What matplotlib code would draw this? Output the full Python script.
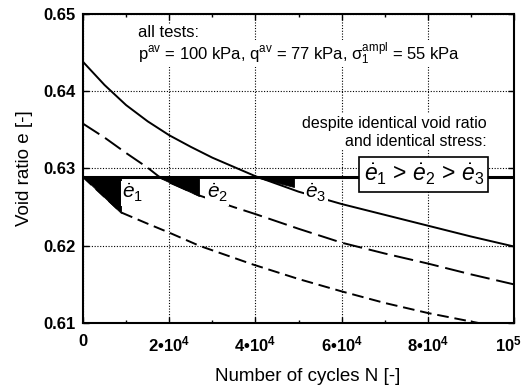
import matplotlib
matplotlib.use('Agg')
import matplotlib.pyplot as plt
import matplotlib.transforms as mtransforms
from matplotlib.ticker import MultipleLocator

plt.rcParams['font.family'] = ['Liberation Sans', 'DejaVu Sans']
plt.rcParams['mathtext.fontset'] = 'custom'
plt.rcParams['mathtext.rm'] = 'Liberation Sans'
plt.rcParams['mathtext.it'] = 'Liberation Sans:italic'
plt.rcParams['mathtext.bf'] = 'Liberation Sans:bold'

# curves
n1 = [0, 5000, 10000, 15000, 20000, 25000, 30000, 35000, 40000, 45000, 50000,
      55000, 60000, 70000, 80000, 90000, 100000]
e1 = [0.6438, 0.6408, 0.6382, 0.6361, 0.6343, 0.6328, 0.6314, 0.6302, 0.6290,
      0.6280, 0.6270, 0.6262, 0.6254, 0.6240, 0.6226, 0.6212, 0.6199]
n2 = [0, 5000, 10000, 15000, 17500, 20000, 27000, 35000, 40000, 50000, 60000,
      70000, 80000, 90000, 100000]
e2 = [0.6358, 0.6340, 0.6320, 0.6301, 0.6290, 0.6282, 0.6265, 0.6250, 0.6241,
      0.6222, 0.6204, 0.6190, 0.6177, 0.6163, 0.6150]
n3 = [0, 8900, 14800, 20000, 27000, 39300, 50000, 60000, 70000, 80000, 90000, 100000]
e3 = [0.6289, 0.6243, 0.6229, 0.6217, 0.6200, 0.6176, 0.6157, 0.6141, 0.6126,
      0.6113, 0.6102, 0.6091]

e_ref = 0.6289  # identical void ratio
# tangent triangles (start N, end N, e at end)
tri_n0 = [0, 17500, 40000]
tri_n1 = [8900, 27000, 49000]
tri_e1 = [0.6243, 0.6265, 0.6276]
lab_n = [9100, 28700, 51600]
lab_e = [0.6268, 0.6268, 0.6268]
lab_txt = [r'$\dot{e}_1$', r'$\dot{e}_2$', r'$\dot{e}_3$']

xticks = [0, 20000, 40000, 60000, 80000, 100000]
xticklabels = ['0', '2•10$^{\\mathbf{4}}$', '4•10$^{\\mathbf{4}}$',
               '6•10$^{\\mathbf{4}}$', '8•10$^{\\mathbf{4}}$', '10$^{\\mathbf{5}}$']
yticks = [0.61, 0.62, 0.63, 0.64, 0.65]

fig = plt.figure(figsize=(5.22, 3.86), dpi=100)
ax = fig.add_axes([0.159, 0.163, 0.826, 0.801])

ax.plot(n1, e1, color='black', lw=1.4, zorder=3)
ax.plot(n2, e2, color='black', lw=1.4, dashes=(10, 3.5), zorder=3)
ax.plot(n3, e3, color='black', lw=1.4, dashes=(6, 3), zorder=3)
ax.axhline(e_ref, color='black', lw=2.2, zorder=4)

for a, b, c in zip(tri_n0, tri_n1, tri_e1):
    ax.fill([a, b, b], [e_ref, e_ref, c], facecolor='black', edgecolor='black',
            lw=0.6, zorder=4)

for x, y, t in zip(lab_n, lab_e, lab_txt):
    ax.text(x, y, t, fontsize=15, ha='left', va='center', zorder=5,
            bbox=dict(facecolor='white', edgecolor='none', pad=1))

ax.text(79000, 0.6292, r'$\dot{e}_1$ > $\dot{e}_2$ > $\dot{e}_3$', fontsize=16.5,
        ha='center', va='center', zorder=6,
        bbox=dict(facecolor='white', edgecolor='black', lw=1.2, boxstyle='square,pad=0.2'))

ax.text(0.128, 0.925, 'all tests:', transform=ax.transAxes, fontsize=12,
        zorder=6, bbox=dict(facecolor='white', edgecolor='none', pad=0.5))
ax.text(0.128, 0.852,
        r'p$^{\mathrm{av}}$ = 100 kPa, q$^{\mathrm{av}}$ = 77 kPa, $\mathrm{σ}_1^{\mathrm{ampl}}$ = 55 kPa',
        transform=ax.transAxes, fontsize=12, zorder=5,
        bbox=dict(facecolor='white', edgecolor='none', pad=0.5))
ax.text(0.937, 0.573, 'despite identical void ratio\nand identical stress:',
        transform=ax.transAxes, fontsize=11.5, ha='right', multialignment='right',
        linespacing=1.25, zorder=5, bbox=dict(facecolor='white', edgecolor='none', pad=1))

ax.set_xlim(0, 100000)
ax.set_ylim(0.61, 0.65)
ax.set_xticks(xticks)
ax.set_xticklabels(xticklabels, fontweight='bold', fontsize=12)
ax.set_yticks(yticks)
ax.set_yticklabels(['%.2f' % v for v in yticks], fontweight='bold', fontsize=12)
ax.xaxis.set_minor_locator(MultipleLocator(10000))
ax.tick_params(which='both', direction='in', top=True, right=True, width=1)
ax.tick_params(which='major', length=4)
ax.tick_params(axis='x', which='major', pad=8)
ax.tick_params(axis='y', which='major', pad=5)
ax.tick_params(which='minor', length=2)
ax.grid(True, which='major', color='black', linestyle=(0, (1, 1.5)), lw=0.8)
for s in ax.spines.values():
    s.set_linewidth(1.5)

# keep last x label inside the figure
last = ax.get_xticklabels()[-1]
last.set_transform(last.get_transform() +
                   mtransforms.ScaledTranslation(-4 / 72, 0, fig.dpi_scale_trans))

ax.set_xlabel('Number of cycles N [-]', fontsize=13.5)
ax.xaxis.set_label_coords(0.52, -0.145)
ax.set_ylabel('Void ratio e [-]', fontsize=13.5, labelpad=8)

fig.savefig('out.png', dpi=100)
